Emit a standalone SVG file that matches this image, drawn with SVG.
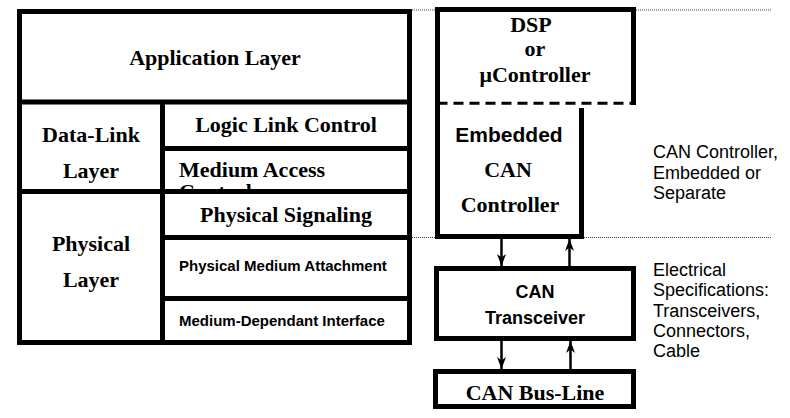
<svg xmlns="http://www.w3.org/2000/svg" width="790" height="418" viewBox="0 0 790 418">
<style>
.box{fill:#fff;stroke:#000;stroke-width:5}
.ln{fill:none;stroke:#000;stroke-width:5}
.dot{fill:none;stroke:#444;stroke-width:1;stroke-dasharray:1 1}
.arr{fill:none;stroke:#000;stroke-width:2.5}
.tb{font-family:"Liberation Serif","Times New Roman",serif;font-weight:bold;font-size:22px;fill:#000}
.ab{font-family:"Liberation Sans",Arial,sans-serif;font-weight:bold;fill:#000}
.ar{font-family:"Liberation Sans",Arial,sans-serif;font-size:18px;fill:#000}
.c{text-anchor:middle}
</style>
<defs>
<marker id="ah" viewBox="0 0 12 9" refX="12" refY="4.5" markerWidth="12" markerHeight="9" markerUnits="userSpaceOnUse" orient="auto">
<path d="M0,0 L12,4.5 L0,9 L3.5,4.5 z" fill="#000"/>
</marker>
<clipPath id="macclip"><rect x="165" y="150" width="242" height="39"/></clipPath>
</defs>
<g id="guides">
<line class="dot" x1="412" y1="10" x2="772" y2="10"/>
<line class="dot" x1="412" y1="237.5" x2="772" y2="237.5"/>
</g>
<g id="osi-stack">
<rect class="box" x="19.5" y="11.5" width="390" height="331"/>
<line class="ln" x1="19.5" y1="102" x2="409.5" y2="102"/>
<line class="ln" x1="162.5" y1="102" x2="162.5" y2="342.5"/>
<line class="ln" x1="162.5" y1="148.5" x2="409.5" y2="148.5"/>
<line class="ln" x1="19.5" y1="191.5" x2="409.5" y2="191.5"/>
<line class="ln" x1="162.5" y1="237.5" x2="409.5" y2="237.5"/>
<line class="ln" x1="162.5" y1="298.5" x2="409.5" y2="298.5"/>
</g>
<g id="application-layer"><text class="tb c" x="215" y="65">Application Layer</text></g>
<g id="data-link-layer"><text class="tb c" x="91" y="142">Data-Link</text><text class="tb c" x="91" y="178">Layer</text></g>
<g id="llc"><text class="tb c" x="286" y="132">Logic Link Control</text></g>
<g id="mac"><text class="tb" x="179" y="177">Medium Access</text><text class="tb" x="179" y="199" clip-path="url(#macclip)">Control</text></g>
<g id="physical-signaling"><text class="tb c" x="286" y="222">Physical Signaling</text></g>
<g id="physical-layer"><text class="tb c" x="91" y="251">Physical</text><text class="tb c" x="91" y="287">Layer</text></g>
<g id="pma"><text class="ab" x="179" y="271" font-size="15">Physical Medium Attachment</text></g>
<g id="mdi"><text class="ab" x="179" y="326" font-size="15">Medium-Dependant Interface</text></g>
<g id="dsp">
<path class="ln" d="M437.5,103 V9.5 H633.5 V105"/>
<line x1="437.5" y1="103.3" x2="636" y2="103.3" stroke="#000" stroke-width="3" stroke-dasharray="10 6"/>
<text class="tb c" x="531" y="32">DSP</text>
<text class="tb c" x="535" y="56">or</text>
<text class="tb c" x="535" y="82">μController</text>
</g>
<g id="embedded-can-controller">
<path class="ln" d="M581.5,108 V236.5 H437.5 V103"/>
<text class="ab c" x="509" y="142" font-size="21">Embedded</text>
<text class="tb c" x="508" y="177" font-size="21">CAN</text>
<text class="tb c" x="510" y="212" font-size="21">Controller</text>
</g>
<g id="can-controller-note">
<text class="ar" x="653" y="158">CAN Controller,</text>
<text class="ar" x="653" y="178.5">Embedded or</text>
<text class="ar" x="653" y="199">Separate</text>
</g>
<g id="can-transceiver">
<rect class="box" x="436.5" y="268.5" width="197" height="70"/>
<text class="ab c" x="535" y="298" font-size="18">CAN</text>
<text class="ab c" x="535" y="324" font-size="18">Transceiver</text>
</g>
<g id="electrical-note">
<text class="ar" x="653" y="276">Electrical</text>
<text class="ar" x="653" y="296">Specifications:</text>
<text class="ar" x="653" y="316.5">Transceivers,</text>
<text class="ar" x="653" y="337">Connectors,</text>
<text class="ar" x="653" y="357">Cable</text>
</g>
<g id="can-bus-line">
<rect class="box" x="435.5" y="371.5" width="198" height="35"/>
<text class="tb c" x="535" y="400">CAN Bus-Line</text>
</g>
<g id="connectors">
<line class="arr" x1="501.5" y1="239" x2="501.5" y2="266" marker-end="url(#ah)"/>
<line class="arr" x1="569.5" y1="266" x2="569.5" y2="239" marker-end="url(#ah)"/>
<line class="arr" x1="501.5" y1="341" x2="501.5" y2="369" marker-end="url(#ah)"/>
<line class="arr" x1="570.5" y1="369" x2="570.5" y2="341" marker-end="url(#ah)"/>
</g>
</svg>
